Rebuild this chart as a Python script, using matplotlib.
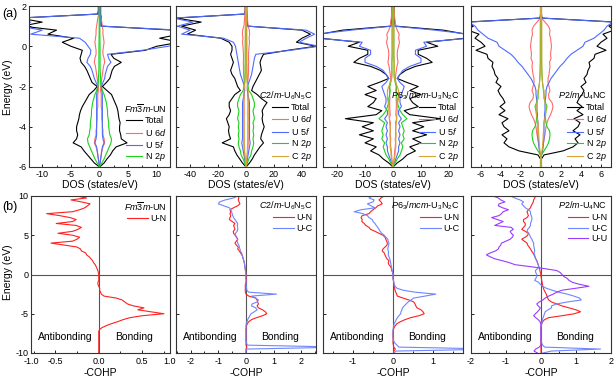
import matplotlib
matplotlib.use("Agg")
import matplotlib.pyplot as plt
from matplotlib.ticker import MultipleLocator

plt.rcParams['font.family'] = ['Liberation Sans', 'DejaVu Sans']
plt.rcParams['mathtext.fontset'] = 'custom'
plt.rcParams['mathtext.rm'] = 'Liberation Sans'
plt.rcParams['mathtext.it'] = 'Liberation Sans:italic'
plt.rcParams['axes.unicode_minus'] = False
plt.rcParams['font.size'] = 6.5

# ---------------- (a) DOS, energy grid in eV ----------------
E_dos = [-6.0, -5.8, -5.6, -5.4, -5.2, -5.0, -4.8, -4.6, -4.4, -4.2,
         -4.0, -3.8, -3.6, -3.4, -3.2, -3.0, -2.8, -2.6, -2.4, -2.2,
         -2.0, -1.8, -1.6, -1.4, -1.2, -1.0, -0.8, -0.6, -0.4, -0.2,
         0.0, 0.2, 0.4, 0.6, 0.8, 1.0, 1.2, 1.4, 1.6, 1.8,
         2.0]

# Fm-3m UN (spin up drawn on the left, spin down on the right)
un_tot_dn = [0.0, 0.8, 1.3, 1.9, 2.3, 2.9, 4.8, 3.8, 3.7, 3.5,
             3.5, 3.6, 3.4, 3.3, 3.2, 3.0, 2.7, 2.4, 2.1, 1.3,
             0.5, 1.2, 1.8, 2.0, 2.2, 2.6, 3.8, 2.5, 2.0, 8.0,
             10.0, 14.0, 10.5, 14.0, 13.0, 0.3, 0.3, 0.3, 0.2, 0.2,
             0.2]
un_tot_up = [0.0, 0.9, 1.5, 2.1, 2.7, 3.2, 4.6, 4.0, 3.8, 4.0,
             4.0, 3.8, 3.6, 3.5, 3.3, 3.0, 2.6, 2.2, 1.8, 1.0,
             0.4, 1.3, 1.6, 1.9, 2.2, 2.6, 3.2, 3.4, 3.2, 3.0,
             5.0, 6.5, 4.5, 9.0, 7.5, 13.5, 10.0, 14.0, 0.3, 0.2,
             0.2]
un_5f_dn = [0.0, 0.1, 0.2, 0.3, 0.4, 0.5, 0.8, 0.6, 0.5, 0.5,
            0.5, 0.5, 0.5, 0.5, 0.5, 0.5, 0.5, 0.5, 0.5, 0.4,
            0.3, 0.6, 0.9, 1.0, 1.2, 1.4, 2.0, 1.6, 1.4, 7.5,
            12.0, 15.0, 12.5, 15.0, 14.0, 0.2, 0.2, 0.2, 0.1, 0.1,
            0.1]
un_5f_up = [0.0, 0.1, 0.2, 0.3, 0.4, 0.5, 0.8, 0.6, 0.5, 0.5,
            0.5, 0.5, 0.5, 0.5, 0.5, 0.5, 0.5, 0.5, 0.5, 0.4,
            0.3, 0.6, 0.9, 1.1, 1.3, 1.6, 2.2, 2.0, 1.6, 1.5,
            2.0, 2.5, 3.5, 12.0, 10.0, 14.0, 12.0, 14.0, 0.2, 0.1,
            0.1]
un_6d = [0.0, 0.1, 0.2, 0.3, 0.4, 0.6, 0.9, 0.8, 0.6, 0.6,
         0.5, 0.5, 0.4, 0.4, 0.4, 0.3, 0.3, 0.3, 0.3, 0.2,
         0.2, 0.3, 0.4, 0.5, 0.6, 0.7, 0.9, 0.8, 0.6, 0.6,
         0.7, 0.8, 0.7, 0.6, 0.6, 0.5, 0.4, 0.3, 0.1, 0.1,
         0.1]
un_n2p = [0.0, 0.4, 0.8, 1.1, 1.4, 1.7, 2.0, 2.1, 1.8, 1.7,
          1.6, 1.6, 1.5, 1.4, 1.4, 1.3, 1.2, 1.0, 0.8, 0.5,
          0.3, 0.2, 0.2, 0.15, 0.12, 0.1, 0.1, 0.1, 0.1, 0.1,
          0.1, 0.08, 0.08, 0.06, 0.06, 0.05, 0.05, 0.05, 0.05, 0.05,
          0.05]

# C2/m U6N5C
c2m_tot_dn = [0.0, 2.5, 4.5, 6.0, 8.0, 10.0, 12.5, 10.5, 11.0, 12.0,
              13.0, 12.0, 11.5, 12.0, 11.5, 13.0, 15.0, 11.0, 8.0, 4.0,
              5.0, 6.5, 8.0, 9.5, 11.0, 10.5, 10.0, 11.0, 12.5, 30.0,
              50.0, 36.0, 40.0, 46.0, 40.0, 1.2, 1.0, 0.8, 0.6, 0.5,
              0.5]
c2m_tot_up = [0.0, 2.5, 4.5, 6.5, 8.0, 9.0, 17.0, 11.0, 12.0, 12.5,
              12.0, 13.0, 14.0, 12.0, 11.0, 12.0, 12.0, 10.0, 8.0, 4.0,
              6.0, 7.0, 8.0, 10.0, 11.0, 10.0, 9.0, 10.0, 11.0, 10.0,
              10.0, 12.0, 18.0, 42.0, 36.0, 46.0, 32.0, 50.0, 1.0, 0.6,
              0.5]
c2m_5f_dn = [0.0, 0.5, 1.0, 1.5, 2.0, 2.5, 3.0, 2.5, 2.5, 2.5,
             2.5, 2.5, 2.5, 2.5, 2.5, 2.5, 2.5, 2.0, 1.5, 1.0,
             1.0, 2.0, 3.0, 4.0, 4.5, 5.0, 5.5, 6.0, 7.0, 32.0,
             52.0, 38.0, 43.0, 49.0, 43.0, 0.8, 0.6, 0.5, 0.4, 0.3,
             0.3]
c2m_5f_up = [0.0, 0.5, 1.0, 1.5, 2.0, 2.5, 3.0, 2.5, 2.5, 2.5,
             2.5, 2.5, 2.5, 2.5, 2.5, 2.5, 2.5, 2.0, 1.5, 1.0,
             1.0, 2.0, 3.0, 4.0, 4.5, 5.0, 5.5, 6.0, 6.5, 7.0,
             7.5, 9.0, 16.0, 46.0, 40.0, 49.0, 38.0, 52.0, 0.8, 0.4,
             0.3]
c2m_6d = [0.0, 0.3, 0.6, 0.9, 1.2, 1.4, 1.6, 1.5, 1.5, 1.5,
          1.5, 1.4, 1.5, 1.4, 1.4, 1.5, 1.5, 1.3, 1.2, 1.0,
          1.0, 1.2, 1.5, 1.7, 1.8, 1.8, 1.9, 1.8, 1.8, 2.0,
          2.2, 2.5, 2.2, 2.6, 2.4, 1.5, 1.2, 1.0, 0.8, 0.6,
          0.5]
c2m_n2p = [0.0, 1.0, 2.0, 3.5, 4.0, 5.0, 5.5, 5.0, 5.5, 5.0,
           5.5, 5.0, 6.0, 5.5, 5.0, 6.0, 6.0, 5.0, 4.0, 2.0,
           1.5, 1.0, 0.8, 0.7, 0.6, 0.6, 0.5, 0.5, 0.5, 0.5,
           0.5, 0.5, 0.4, 0.4, 0.4, 0.3, 0.3, 0.3, 0.3, 0.3,
           0.3]
c2m_c2p = [0.0, 0.3, 0.5, 0.8, 1.0, 1.0, 1.2, 1.2, 1.3, 1.3,
           1.4, 1.4, 1.5, 1.5, 1.5, 1.5, 1.6, 1.5, 1.5, 1.5,
           1.0, 0.8, 0.6, 0.5, 0.5, 0.5, 0.5, 0.5, 0.5, 0.5,
           0.5, 0.5, 0.5, 0.5, 0.5, 0.4, 0.4, 0.4, 0.4, 0.4,
           0.4]

# P6_3/mcm U3N2C
p63_tot = [0.0, 1.5, 3.5, 5.0, 8.0, 6.0, 10.0, 7.0, 12.0, 7.0,
           11.0, 7.0, 17.0, 6.0, 4.0, 9.0, 7.0, 6.0, 10.0, 6.0,
           9.0, 5.0, 1.5, 2.5, 4.5, 8.0, 14.0, 12.0, 9.0, 9.0,
           16.0, 12.0, 26.0, 26.0, 18.0, 0.8, 0.6, 0.5, 0.4, 0.4,
           0.4]
p63_5f = [0.0, 0.5, 1.0, 1.5, 2.0, 2.0, 2.5, 2.0, 2.5, 2.0,
          2.5, 2.0, 3.0, 2.0, 2.0, 3.0, 2.5, 2.5, 3.0, 3.5,
          4.0, 2.5, 1.5, 2.5, 3.5, 6.0, 10.0, 10.0, 8.0, 8.0,
          12.0, 11.0, 27.0, 27.0, 15.0, 0.3, 0.2, 0.2, 0.2, 0.2,
          0.2]
p63_6d = [0.0, 0.2, 0.4, 0.5, 0.6, 0.8, 0.9, 0.8, 1.0, 0.9,
          1.0, 0.9, 1.3, 1.0, 1.1, 1.2, 1.2, 1.1, 1.2, 1.3,
          1.2, 1.0, 0.8, 1.0, 1.2, 1.4, 1.8, 1.6, 1.5, 1.6,
          2.0, 2.3, 2.0, 2.2, 1.5, 1.0, 0.8, 0.6, 0.5, 0.4,
          0.3]
p63_n2p = [0.0, 0.8, 1.5, 2.5, 3.0, 3.5, 3.0, 4.0, 3.5, 4.0,
           3.5, 3.0, 5.0, 3.5, 2.5, 2.0, 1.5, 1.5, 1.2, 1.0,
           1.2, 0.8, 0.5, 0.4, 0.4, 0.4, 0.4, 0.3, 0.3, 0.3,
           0.3, 0.3, 0.3, 0.3, 0.3, 0.2, 0.2, 0.2, 0.2, 0.2,
           0.2]
p63_c2p = [0.0, 0.3, 0.5, 0.7, 0.8, 1.0, 1.0, 1.0, 1.1, 1.0,
           1.0, 1.2, 1.3, 1.4, 1.5, 1.5, 1.7, 2.0, 2.0, 2.0,
           1.5, 1.0, 0.5, 0.4, 0.4, 0.4, 0.4, 0.4, 0.3, 0.3,
           0.3, 0.3, 0.3, 0.3, 0.3, 0.3, 0.3, 0.3, 0.3, 0.3,
           0.3]

# P2/m U4NC
p2m_tot = [0.05, 0.05, 0.05, 0.3, 2.2, 3.2, 3.7, 3.4, 3.9, 3.2,
           3.7, 3.9, 3.3, 4.2, 3.6, 4.1, 3.6, 3.8, 4.1, 4.3,
           4.0, 4.5, 4.3, 4.6, 4.7, 4.9, 4.8, 5.3, 5.4, 6.5,
           5.6, 6.0, 6.6, 6.2, 7.3, 6.8, 7.5, 0.1, 0.05, 0.05,
           0.05]
p2m_5f = [0.0, 0.0, 0.0, 0.05, 0.15, 0.2, 0.25, 0.3, 0.3, 0.3,
          0.3, 0.3, 0.35, 0.35, 0.4, 0.4, 0.4, 0.45, 0.5, 0.5,
          0.6, 0.8, 1.0, 1.3, 1.6, 1.9, 2.3, 2.6, 3.0, 3.6,
          4.2, 4.4, 5.3, 5.8, 6.3, 6.6, 7.2, 0.05, 0.02, 0.02,
          0.02]
p2m_6d = [0.0, 0.0, 0.0, 0.05, 0.15, 0.2, 0.25, 0.3, 0.4, 0.45,
          0.5, 0.6, 0.75, 0.95, 1.1, 1.2, 1.1, 0.8, 0.75, 0.9,
          0.8, 0.7, 0.7, 0.8, 0.85, 0.9, 0.85, 1.0, 0.95, 1.0,
          1.05, 1.0, 0.95, 0.85, 0.9, 0.75, 0.4, 0.05, 0.02, 0.02,
          0.02]
p2m_n2p = [0.0, 0.0, 0.0, 0.05, 0.3, 0.55, 0.75, 0.85, 0.9, 0.85,
           0.6, 0.5, 0.45, 0.45, 0.5, 0.6, 0.45, 0.3, 0.3, 0.25,
           0.2, 0.15, 0.12, 0.1, 0.08, 0.07, 0.06, 0.05, 0.05, 0.05,
           0.05, 0.05, 0.04, 0.04, 0.04, 0.03, 0.03, 0.02, 0.02, 0.02,
           0.02]
p2m_c2p = [0.0, 0.0, 0.0, 0.02, 0.1, 0.15, 0.18, 0.2, 0.22, 0.25,
           0.27, 0.3, 0.38, 0.45, 0.48, 0.5, 0.4, 0.35, 0.3, 0.3,
           0.2, 0.15, 0.12, 0.1, 0.08, 0.08, 0.08, 0.08, 0.08, 0.08,
           0.08, 0.08, 0.08, 0.08, 0.08, 0.08, 0.08, 0.05, 0.05, 0.05,
           0.05]

# ---------------- (b) -COHP, energy grid in eV ----------------
E_cohp = [-10.0, -9.75, -9.5, -9.25, -9.0, -8.75, -8.5, -8.25,
          -8.0, -7.75, -7.5, -7.25, -7.0, -6.75, -6.5, -6.25,
          -6.0, -5.75, -5.5, -5.25, -5.0, -4.75, -4.5, -4.25,
          -4.0, -3.75, -3.5, -3.25, -3.0, -2.75, -2.5, -2.25,
          -2.0, -1.75, -1.5, -1.25, -1.0, -0.75, -0.5, -0.25,
          0.0, 0.25, 0.5, 0.75, 1.0, 1.25, 1.5, 1.75,
          2.0, 2.25, 2.5, 2.75, 3.0, 3.25, 3.5, 3.75,
          4.0, 4.25, 4.5, 4.75, 5.0, 5.25, 5.5, 5.75,
          6.0, 6.25, 6.5, 6.75, 7.0, 7.25, 7.5, 7.75,
          8.0, 8.25, 8.5, 8.75, 9.0, 9.25, 9.5, 9.75,
          10.0]

un_UN = [0, 0, 0, 0, 0, 0, 0, 0,
         0, 0, 0, 0, 0.01, 0.04, 0.09, 0.15,
         0.22, 0.28, 0.36, 0.5, 0.75, 0.6, 0.45, 0.52,
         0.4, 0.33, 0.3, 0.27, 0.2, 0.06, 0.03, 0.02,
         0.01, 0.01, 0.0, -0.01, -0.01, 0.0, 0.0, 0.0,
         0.0, -0.005, -0.01, -0.02, -0.03, -0.04, -0.06, -0.07,
         -0.09, -0.11, -0.14, -0.15, -0.2, -0.21, -0.25, -0.4,
         -0.55, -0.3, -0.25, -0.22, -0.3, -0.47, -0.3, -0.24,
         -0.2, -0.26, -0.49, -0.3, -0.26, -0.33, -0.45, -0.6,
         -0.3, -0.22, -0.16, -0.13, -0.1, -0.2, -0.32, -0.14,
         -0.26]

c2m_UN = [0, 0, 0, 0.03, 0, 0, 0, 0,
          0, 0, 0, 0, 0, 0.01, 0.02, 0.05,
          0.1, 0.2, 0.38, 0.6, 0.75, 0.7, 0.6, 0.45,
          0.4, 0.45, 0.42, 0.4, 0.35, 0.1, 0.0, -0.02,
          -0.03, -0.02, -0.03, -0.02, 0.0, 0.01, 0.01, 0.0,
          0.0, -0.01, -0.02, -0.03, -0.04, -0.05, -0.06, -0.08,
          -0.1, -0.12, -0.15, -0.2, -0.24, -0.3, -0.28, -0.35,
          -0.4, -0.35, -0.3, -0.34, -0.38, -0.45, -0.46, -0.4,
          -0.42, -0.45, -0.4, -0.5, -0.6, -0.58, -0.55, -0.58,
          -0.55, -0.58, -0.45, -0.3, -0.22, -0.25, -0.28, -0.26,
          -0.28]
c2m_UC = [0, 0, 0.02, 3.5, 0.05, 0.02, 0, 0,
          0, 0, 0, 0, 0, 0, 0, 0.01,
          0.04, 0.06, 0.1, 0.14, 0.18, 0.3, 0.4, 0.35,
          0.2, 0.22, 0.4, 0.45, 0.35, 0.2, 1.1, 0.1,
          0.03, 0.02, 0.01, 0.0, 0.0, 0.0, -0.01, -0.01,
          0.0, -0.01, -0.02, -0.03, -0.04, -0.05, -0.06, -0.08,
          -0.1, -0.12, -0.14, -0.16, -0.2, -0.22, -0.24, -0.26,
          -0.3, -0.32, -0.3, -0.35, -0.4, -0.38, -0.32, -0.3,
          -0.3, -0.32, -0.3, -0.35, -0.4, -0.45, -0.48, -0.5,
          -0.52, -0.55, -0.6, -0.8, -1.0, -0.95, -0.75, -0.45,
          -0.3]

p63_UN = [0.01, 0.02, 0.06, 0.02, 0.01, 0, 0, 0,
          0, 0, 0, 0, 0.01, 0.03, 0.06, 0.1,
          0.19, 0.3, 0.44, 0.65, 0.78, 0.75, 0.7, 0.6,
          0.57, 0.55, 0.52, 0.4, 0.25, 0.11, 0.09, 0.07,
          0.05, 0.04, 0.03, 0.02, 0.02, 0.01, 0.0, 0.0,
          0.0, -0.01, -0.03, -0.04, -0.06, -0.1, -0.12, -0.1,
          -0.15, -0.18, -0.2, -0.22, -0.27, -0.25, -0.2, -0.15,
          -0.14, -0.16, -0.18, -0.2, -0.25, -0.35, -0.45, -0.56,
          -0.6, -0.68, -0.72, -0.78, -0.77, -0.8, -0.77, -0.6,
          -0.56, -0.5, -0.43, -0.38, -0.27, -0.3, -0.35, -0.3,
          -0.22]
p63_UC = [0.02, 0.08, 2.6, 0.15, 0.1, 0.05, 0.02, 0.01,
          0, 0, 0, 0, 0, 0.01, 0.02, 0.03,
          0.06, 0.08, 0.11, 0.15, 0.19, 0.2, 0.22, 0.24,
          0.28, 0.33, 0.38, 0.45, 0.52, 0.8, 1.07, 0.55,
          0.25, 0.1, 0.05, 0.03, 0.02, 0.01, 0.0, 0.0,
          0.0, -0.01, -0.02, -0.03, -0.04, -0.05, -0.06, -0.07,
          -0.08, -0.1, -0.12, -0.11, -0.12, -0.13, -0.12, -0.11,
          -0.1, -0.12, -0.13, -0.18, -0.22, -0.28, -0.32, -0.35,
          -0.38, -0.42, -0.45, -0.5, -0.52, -0.6, -0.64, -0.75,
          -0.97, -0.8, -0.45, -0.55, -0.64, -0.5, -0.47, -0.6,
          -0.52]

p2m_UN = [0, 0, 0, 0, 0, 0, 0, 0,
          0, 0, 0, 0, 0, 0, 0.01, 0.02,
          0.05, 0.1, 0.22, 0.6, 0.95, 1.13, 1.0, 0.8,
          0.6, 0.45, 0.3, 0.22, 0.19, 0.17, 0.15, 0.12,
          0.09, 0.07, 0.05, 0.04, 0.03, 0.02, 0.01, 0.0,
          0.0, -0.02, -0.03, -0.04, -0.06, -0.08, -0.1, -0.12,
          -0.15, -0.17, -0.2, -0.23, -0.27, -0.3, -0.34, -0.38,
          -0.4, -0.48, -0.55, -0.45, -0.38, -0.36, -0.45, -0.55,
          -0.5, -0.45, -0.45, -0.5, -0.5, -0.4, -0.36, -0.38,
          -0.4, -0.36, -0.3, -0.28, -0.25, -0.22, -0.21, -0.18,
          -0.16]
p2m_UC = [0.05, 0.3, 1.7, 0.1, 0.05, 0.02, 0.01, 0,
          0, 0, 0, 0, 0, 0.01, 0.01, 0.02,
          0.03, 0.04, 0.06, 0.08, 0.1, 0.12, 0.2, 0.3,
          0.3, 0.45, 0.75, 1.15, 1.1, 0.94, 0.75, 0.5,
          0.32, 0.15, 0.05, -0.02, -0.07, -0.18, -0.15, -0.12,
          -0.12, -0.15, -0.16, -0.1, -0.07, -0.08, -0.1, -0.12,
          -0.15, -0.18, -0.18, -0.2, -0.18, -0.19, -0.2, -0.21,
          -0.21, -0.24, -0.26, -0.3, -0.32, -0.35, -0.4, -0.38,
          -0.33, -0.3, -0.3, -0.28, -0.26, -0.26, -0.28, -0.3,
          -0.3, -0.35, -0.45, -0.5, -0.55, -0.5, -0.6, -0.75,
          -0.88]
p2m_UU = [-0.1, -0.2, -0.15, -0.05, 0, 0, 0, 0,
          0, 0, 0, 0, 0, 0, 0, -0.01,
          -0.03, -0.08, -0.15, -0.21, -0.16, -0.1, -0.05, -0.02,
          -0.08, -0.12, -0.05, 0.05, 0.12, 0.22, 0.35, 0.45,
          0.6, 1.0, 1.37, 1.1, 0.9, 0.8, 0.75, 0.65,
          0.6, 0.55, 0.45, 0.1, -0.3, -0.74, -0.9, -1.1,
          -1.32, -1.45, -1.56, -1.45, -1.3, -1.22, -1.2, -1.15,
          -1.13, -1.0, -0.88, -0.82, -0.79, -0.85, -0.88, -0.79,
          -0.85, -1.32, -1.2, -1.08, -1.25, -1.41, -1.2, -1.13,
          -1.08, -0.93, -1.1, -1.22, -1.2, -1.03, -1.15, -1.22,
          -1.37]

c_tot = 'black'
c_d = '#ff6b6b'
c_f = '#4f6bff'
c_n = '#19d219'
c_c = '#d4a437'
c_un = '#ff2020'
c_uc = '#6f86ff'
c_uu = '#9a3cff'

W, H = 615, 381
fig = plt.figure(figsize=(W / 100, H / 100), dpi=100)


def rect(x0, x1, y0, y1):
    return [x0 / W, 1 - y1 / H, (x1 - x0) / W, (y1 - y0) / H]


def style(ax):
    for s in ax.spines.values():
        s.set_linewidth(0.8)
        s.set_color('#333333')
    ax.tick_params(which='both', direction='in', width=0.6, labelsize=6.5, pad=2)
    ax.tick_params(which='major', length=2.5)
    ax.tick_params(which='minor', length=1.5)


def dos_panel(r, xmax, xstep, title, series, show_y):
    ax = fig.add_axes(r)
    handles = []
    for up, dn, color, label in series:
        h, = ax.plot(dn, E_dos, color=color, lw=0.8, label=label)
        ax.plot([-v for v in up], E_dos, color=color, lw=0.8)
        handles.append(h)
    ax.set_xlim(-xmax, xmax)
    ax.set_ylim(-6, 2)
    ax.xaxis.set_major_locator(MultipleLocator(xstep))
    ax.xaxis.set_minor_locator(MultipleLocator(xstep / 2))
    ax.yaxis.set_major_locator(MultipleLocator(2))
    ax.yaxis.set_minor_locator(MultipleLocator(1))
    style(ax)
    if not show_y:
        ax.set_yticklabels([])
    ax.set_xlabel('DOS (states/eV)', fontsize=7.5, labelpad=1)
    ax.legend(handles=handles, loc='lower right', title=title, frameon=False,
              fontsize=6.5, title_fontsize=6.5, handlelength=1.8,
              handletextpad=0.3, labelspacing=0.15, borderpad=0.1,
              borderaxespad=0.3, alignment='right')
    return ax


def cohp_panel(r, xlim, title, series, show_y):
    ax = fig.add_axes(r)
    ax.axhline(0, color='#555555', lw=0.8)
    ax.axvline(0, color='#555555', lw=0.8)
    for vals, color, label in series:
        ax.plot(vals, E_cohp, color=color, lw=0.8, label=label)
    ax.set_xlim(xlim)
    ax.set_ylim(-10, 10)
    ax.yaxis.set_major_locator(MultipleLocator(5))
    ax.xaxis.set_major_locator(MultipleLocator(1))
    ax.xaxis.set_minor_locator(MultipleLocator(0.5))
    style(ax)
    ax.tick_params(axis='x', which='both', pad=3)
    if not show_y:
        ax.set_yticklabels([])
    ax.set_xlabel('-COHP', fontsize=7.5, labelpad=1.5)
    ax.legend(loc='upper right', title=title, frameon=False,
              fontsize=6.5, title_fontsize=6.5, handlelength=2.3,
              handletextpad=0.3, labelspacing=0.15, borderpad=0.1,
              borderaxespad=0.3, alignment='right')
    ax.text(0.245, 0.105, 'Antibonding', transform=ax.transAxes,
            ha='center', va='center', fontsize=7.5)
    ax.text(0.74, 0.105, 'Bonding', transform=ax.transAxes,
            ha='center', va='center', fontsize=7.5)
    return ax


lab_d = 'U 6$d$'
lab_f = 'U 5$f$'
lab_n = 'N 2$p$'
lab_c = 'C 2$p$'

dos_panel(rect(29, 170, 6, 167), 12.3, 5, r'$Fm\overline{3}m$-UN',
          [(un_tot_up, un_tot_dn, c_tot, 'Total'),
           (un_6d, un_6d, c_d, lab_d),
           (un_5f_up, un_5f_dn, c_f, lab_f),
           (un_n2p, un_n2p, c_n, lab_n)], True)
dos_panel(rect(176, 316, 6, 167), 50, 20, r'$C$2/$m$-U$_6$N$_5$C',
          [(c2m_tot_up, c2m_tot_dn, c_tot, 'Total'),
           (c2m_6d, c2m_6d, c_d, lab_d),
           (c2m_5f_up, c2m_5f_dn, c_f, lab_f),
           (c2m_n2p, c2m_n2p, c_n, lab_n),
           (c2m_c2p, c2m_c2p, c_c, lab_c)], False)
dos_panel(rect(323, 463, 6, 167), 25, 10, r'$P$6$_3$/$mcm$-U$_3$N$_2$C',
          [(p63_tot, p63_tot, c_tot, 'Total'),
           (p63_6d, p63_6d, c_d, lab_d),
           (p63_5f, p63_5f, c_f, lab_f),
           (p63_n2p, p63_n2p, c_n, lab_n),
           (p63_c2p, p63_c2p, c_c, lab_c)], False)
dos_panel(rect(471, 611, 6, 167), 7, 2, r'$P$2/$m$-U$_4$NC',
          [(p2m_tot, p2m_tot, c_tot, 'Total'),
           (p2m_6d, p2m_6d, c_d, lab_d),
           (p2m_5f, p2m_5f, c_f, lab_f),
           (p2m_n2p, p2m_n2p, c_n, lab_n),
           (p2m_c2p, p2m_c2p, c_c, lab_c)], False)

axb1 = cohp_panel(rect(31, 170, 196, 353), (-0.78, 0.82), r'$Fm\overline{3}m$-UN',
                  [(un_UN, c_un, 'U-N')], True)
axb1.set_xticks([-0.78, -0.5, 0.0, 0.5, 0.82], ['-1.0', '-0.5', '0.0', '0.5', '1.0'])
axb1.xaxis.set_minor_locator(MultipleLocator(0.25))
cohp_panel(rect(176, 316, 196, 353), (-2.53, 2.53), r'$C$2/$m$-U$_6$N$_5$C',
           [(c2m_UN, c_un, 'U-N'), (c2m_UC, c_uc, 'U-C')], False)
cohp_panel(rect(323, 463, 196, 353), (-1.75, 1.75), r'$P$6$_3$/$mcm$-U$_3$N$_2$C',
           [(p63_UN, c_un, 'U-N'), (p63_UC, c_uc, 'U-C')], False)
cohp_panel(rect(471, 611, 196, 353), (-2, 2), r'$P$2/$m$-U$_4$NC',
           [(p2m_UN, c_un, 'U-N'), (p2m_UC, c_uc, 'U-C'), (p2m_UU, c_uu, 'U-U')], False)

fig.text(2 / W, 1 - 14 / H, '(a)', fontsize=9, va='center', ha='left')
fig.text(2 / W, 1 - 207 / H, '(b)', fontsize=9, va='center', ha='left')
fig.text(8 / W, 1 - 87 / H, 'Energy (eV)', fontsize=7.5, rotation=90, va='center', ha='center')
fig.text(8 / W, 1 - 272 / H, 'Energy (eV)', fontsize=7.5, rotation=90, va='center', ha='center')

fig.savefig('out.png', dpi=100)
